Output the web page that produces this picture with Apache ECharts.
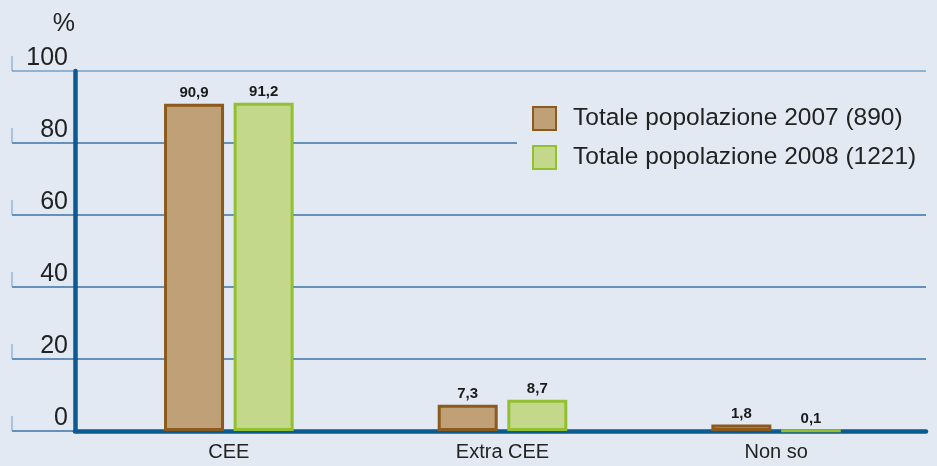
<!DOCTYPE html>
<html>
<head>
<meta charset="utf-8">
<script src="https://cdn.jsdelivr.net/npm/echarts@6/dist/echarts.min.js"></script>
<style>
  html, body { margin: 0; padding: 0; background: #e3e9f3; }
  #chart { width: 937px; height: 466px; }
</style>
</head>
<body>
<div id="chart"></div>
<script>
// data
const categories = ['CEE', 'Extra CEE', 'Non so'];
const seriesNames = ['Totale popolazione 2007 (890)', 'Totale popolazione 2008 (1221)'];
const values2007 = [90.9, 7.3, 1.8];
const values2008 = [91.2, 8.7, 0.1];
const yTicks = [0, 20, 40, 60, 80, 100];

const bg = '#e3e9f3';
const axisBlue = '#0b5a90';
const gridBlue = '#3a72a6';
const textFont = 'Liberation Sans, Arial, sans-serif';

const chart = echarts.init(document.getElementById('chart'));

// value label with comma as decimal mark
function fmt(p) { return String(p.value).replace('.', ','); }

const option = {
    backgroundColor: bg,
    animation: false,
    grid: [
        // gridlines + tick labels
        { left: 12, right: 11, top: 71, bottom: 35 },
        // bars
        { left: 92, right: 24, top: 71, bottom: 35 },
        // thick axis lines
        { left: 75, right: 11, top: 71, bottom: 35 }
    ],
    xAxis: [
        { gridIndex: 0, type: 'value', min: 0, max: 1, show: false },
        {
            gridIndex: 1, type: 'category', data: categories,
            axisLine: { show: false }, axisTick: { show: false },
            axisLabel: { color: '#222', fontSize: 20, fontFamily: textFont, margin: 11 }
        },
        {
            gridIndex: 2, type: 'value', min: 0, max: 1,
            axisLine: { show: true, onZero: false, lineStyle: { color: axisBlue, width: 4.5 } },
            axisTick: { show: false }, axisLabel: { show: false }, splitLine: { show: false }
        }
    ],
    yAxis: [
        {
            gridIndex: 0, type: 'value', min: 0, max: 100, interval: 20,
            axisLine: { show: false }, axisTick: { show: false },
            axisLabel: {
                inside: true, margin: 56, align: 'right', verticalAlign: 'bottom',
                color: '#222', fontSize: 25, fontFamily: textFont
            },
            splitLine: {
                lineStyle: {
                    color: [gridBlue, gridBlue, gridBlue, gridBlue, gridBlue, '#76a1c8'],
                    width: 1.5
                }
            }
        },
        { gridIndex: 1, type: 'value', min: 0, max: 100, show: false },
        {
            gridIndex: 2, type: 'value', min: 0, max: 100, interval: 20,
            name: '%', nameLocation: 'end', nameGap: 34,
            nameTextStyle: { align: 'right', verticalAlign: 'bottom', color: '#222', fontSize: 25, fontFamily: textFont },
            axisLine: { show: true, onZero: false, lineStyle: { color: axisBlue, width: 4.5 } },
            axisTick: { show: false }, axisLabel: { show: false }, splitLine: { show: false }
        }
    ],
    legend: {
        data: seriesNames,
        orient: 'vertical',
        left: 517, top: 94,
        padding: [12, 22, 12, 15],
        backgroundColor: bg,
        icon: 'rect',
        itemWidth: 23, itemHeight: 23, itemGap: 14,
        textStyle: { color: '#222', fontSize: 24.5, lineHeight: 24, fontFamily: textFont, padding: [0, 0, 0, 12] }
    },
    series: [
        {
            // small vertical stubs at the left end of each gridline
            type: 'scatter', xAxisIndex: 0, yAxisIndex: 0, silent: true,
            data: yTicks.map(t => [0, t]),
            symbol: 'rect', symbolSize: [1.3, 15], symbolOffset: [0, '-50%'],
            itemStyle: { color: '#76a1c8' }, z: 1
        },
        {
            name: seriesNames[0], type: 'bar', xAxisIndex: 1, yAxisIndex: 1,
            data: values2007, barWidth: 60, barGap: '16%',
            itemStyle: { color: '#c0a077', borderColor: '#8b5a1c', borderWidth: 3 },
            label: { show: true, position: 'top', distance: 3, formatter: fmt,
                color: '#1a1a1a', fontSize: 15, fontWeight: 'bold', fontFamily: textFont }
        },
        {
            name: seriesNames[1], type: 'bar', xAxisIndex: 1, yAxisIndex: 1,
            data: values2008, barWidth: 60, barGap: '16%',
            itemStyle: { color: '#c3d88a', borderColor: '#92c030', borderWidth: 3 },
            label: { show: true, position: 'top', distance: 3, formatter: fmt,
                color: '#1a1a1a', fontSize: 15, fontWeight: 'bold', fontFamily: textFont }
        }
    ]
};

chart.setOption(option);
</script>
</body>
</html>
